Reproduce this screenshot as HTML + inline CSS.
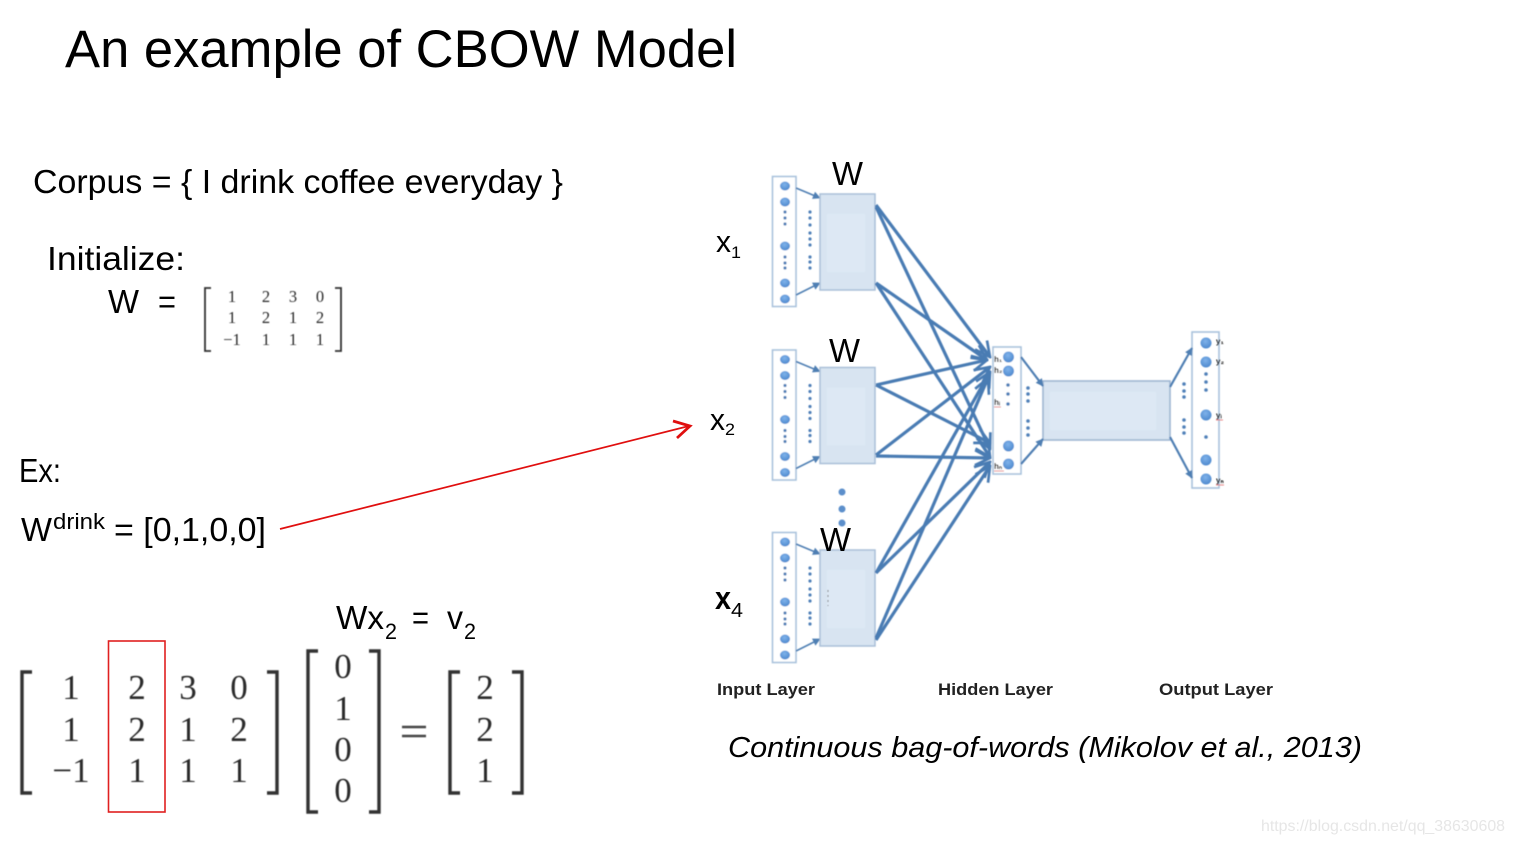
<!DOCTYPE html>
<html><head><meta charset="utf-8"><style>
html,body{margin:0;padding:0;background:#fff}
svg{display:block}
text{font-family:"Liberation Sans",sans-serif;fill:#000}
.m text{font-family:"Liberation Serif",serif;fill:#2a2a2a;text-anchor:middle}
</style></head><body>
<svg width="1514" height="844" viewBox="0 0 1514 844" xmlns="http://www.w3.org/2000/svg">
<defs>
<radialGradient id="n" cx="45%" cy="35%" r="70%"><stop offset="0" stop-color="#7fb2ea"/><stop offset="1" stop-color="#4a86cc"/></radialGradient>
<marker id="h" viewBox="0 0 12 12" refX="11" refY="6" markerWidth="8" markerHeight="8" markerUnits="userSpaceOnUse" orient="auto"><path d="M1 1L11 6L1 11Z" fill="#4f7fb3" stroke="#4f7fb3" stroke-width="1"/></marker>
<marker id="b" viewBox="0 0 12 12" refX="11" refY="6" markerWidth="18" markerHeight="18" markerUnits="userSpaceOnUse" orient="auto"><path d="M1 1L11 6L1 11" fill="none" stroke="#4a7cb3" stroke-width="1.800"/></marker>
<filter id="s" x="-5%" y="-5%" width="110%" height="110%"><feGaussianBlur stdDeviation="0.45"/></filter>
<g id="in">
<rect x="772.500" y="176.500" width="23.500" height="130" fill="#fff" stroke="#a9c2dc" stroke-width="1.600"/>
<g fill="url(#n)"><ellipse cx="785" cy="186" rx="5" ry="4.500"/><ellipse cx="785" cy="202" rx="5" ry="4.500"/><ellipse cx="785" cy="246" rx="5" ry="4.500"/><ellipse cx="785" cy="283" rx="5" ry="4.500"/><ellipse cx="785" cy="299" rx="5" ry="4.500"/></g>
<g fill="#4f80b8"><circle cx="785" cy="212" r="1.600"/><circle cx="785" cy="218" r="1.600"/><circle cx="785" cy="224" r="1.600"/><circle cx="785" cy="257" r="1.600"/><circle cx="785" cy="263" r="1.600"/><circle cx="785" cy="268" r="1.600"/>
<circle cx="810" cy="212" r="1.600"/><circle cx="810" cy="218" r="1.600"/><circle cx="810" cy="225" r="1.600"/><circle cx="810" cy="233" r="1.600"/><circle cx="810" cy="239" r="1.600"/><circle cx="810" cy="245" r="1.600"/><circle cx="810" cy="257" r="1.600"/><circle cx="810" cy="262" r="1.600"/><circle cx="810" cy="268" r="1.600"/></g>
<path d="M796 188L820 198" stroke="#4f7fb3" stroke-width="1.600" fill="none" marker-end="url(#h)"/>
<path d="M796 295L820 283" stroke="#4f7fb3" stroke-width="1.600" fill="none" marker-end="url(#h)"/>
<rect x="820" y="194" width="55" height="96" fill="#d8e4f1" stroke="#a9bfd8" stroke-width="1.500"/>
<rect x="827" y="214" width="38" height="58" fill="#dde8f4"/>
</g>
</defs>

<text x="65" y="67" font-size="53" textLength="672" lengthAdjust="spacingAndGlyphs">An example of CBOW Model</text>
<text x="33" y="193" font-size="33" textLength="530" lengthAdjust="spacingAndGlyphs">Corpus = { I drink coffee everyday }</text>
<text x="47" y="270" font-size="33" textLength="138" lengthAdjust="spacingAndGlyphs">Initialize:</text>
<text x="108" y="313" font-size="33" textLength="31" lengthAdjust="spacingAndGlyphs">W</text>
<text x="158" y="313" font-size="33" textLength="18" lengthAdjust="spacingAndGlyphs">=</text>

<g class="m" filter="url(#s)">
<g fill="none" stroke="#333" stroke-width="1.800"><path d="M211 288H205V351H211M335 288H341V351H335"/></g>
<g font-size="16.500">
<text x="232" y="302">1</text><text x="266" y="302">2</text><text x="293" y="302">3</text><text x="320" y="302">0</text>
<text x="232" y="323">1</text><text x="266" y="323">2</text><text x="293" y="323">1</text><text x="320" y="323">2</text>
<text x="232" y="345">−1</text><text x="266" y="345">1</text><text x="293" y="345">1</text><text x="320" y="345">1</text>
</g>
<g fill="none" stroke="#333" stroke-width="3.400">
<path d="M32 672H22V793H32M267 672H277V793H267"/>
<path d="M318 651H308V812H318M369 651H379V812H369"/>
<path d="M460 672H450V793H460M512 672H522V793H512"/>
</g>
<g font-size="35">
<text x="71" y="699">1</text><text x="137" y="699">2</text><text x="188" y="699">3</text><text x="239" y="699">0</text>
<text x="71" y="741">1</text><text x="137" y="741">2</text><text x="188" y="741">1</text><text x="239" y="741">2</text>
<text x="71" y="782">−1</text><text x="137" y="782">1</text><text x="188" y="782">1</text><text x="239" y="782">1</text>
<text x="343" y="678">0</text><text x="343" y="720">1</text><text x="343" y="761">0</text><text x="343" y="802">0</text>
<text x="485" y="699">2</text><text x="485" y="741">2</text><text x="485" y="782">1</text>
</g>
<path d="M402 727H426M402 736H426" stroke="#444" stroke-width="2.400" fill="none"/>
</g>
<rect x="108.500" y="641" width="56.500" height="171" fill="none" stroke="#e02020" stroke-width="1.600"/>

<text x="19" y="482" font-size="33" textLength="42" lengthAdjust="spacingAndGlyphs">Ex:</text>
<text x="21" y="541" font-size="33" textLength="31" lengthAdjust="spacingAndGlyphs">W</text>
<text x="53" y="529" font-size="22" textLength="52" lengthAdjust="spacingAndGlyphs">drink</text>
<text x="114" y="541" font-size="33" textLength="152" lengthAdjust="spacingAndGlyphs">= [0,1,0,0]</text>
<path d="M280 529L689 426" fill="none" stroke="#e00f0f" stroke-width="1.700"/>
<path d="M673 421L690 426L677 438" fill="none" stroke="#e00f0f" stroke-width="2.800"/>

<text x="336" y="629" font-size="33" textLength="48" lengthAdjust="spacingAndGlyphs">Wx</text>
<text x="385" y="639" font-size="22" textLength="12" lengthAdjust="spacingAndGlyphs">2</text>
<text x="412" y="629" font-size="33" textLength="17" lengthAdjust="spacingAndGlyphs">=</text>
<text x="447" y="629" font-size="33" textLength="16" lengthAdjust="spacingAndGlyphs">v</text>
<text x="464" y="639" font-size="22" textLength="12" lengthAdjust="spacingAndGlyphs">2</text>

<g filter="url(#s)">
<use href="#in"/>
<use href="#in" y="173.500"/>
<use href="#in" y="356"/>
<g fill="#5b8fcb"><circle cx="842" cy="492" r="3.500"/><circle cx="842" cy="509" r="3.500"/><circle cx="842" cy="523" r="3.500"/></g>

<rect x="993" y="347" width="28" height="127" fill="#fff" stroke="#a9c2dc" stroke-width="1.600"/>
<g fill="url(#n)"><circle cx="1008.500" cy="357" r="5.500"/><circle cx="1008.500" cy="371" r="5.500"/><circle cx="1008.500" cy="446" r="5.500"/><circle cx="1008.500" cy="464" r="5.500"/></g>
<g fill="#4f80b8"><circle cx="1008" cy="385" r="1.800"/><circle cx="1008" cy="394" r="1.800"/><circle cx="1008" cy="404" r="1.800"/>
<circle cx="1028" cy="388" r="1.800"/><circle cx="1028" cy="394" r="1.800"/><circle cx="1028" cy="401" r="1.800"/><circle cx="1028" cy="421" r="1.800"/><circle cx="1028" cy="428" r="1.800"/><circle cx="1028" cy="435" r="1.800"/>
<circle cx="1184" cy="384" r="1.800"/><circle cx="1184" cy="391" r="1.800"/><circle cx="1184" cy="397" r="1.800"/><circle cx="1184" cy="420" r="1.800"/><circle cx="1184" cy="427" r="1.800"/><circle cx="1184" cy="433" r="1.800"/>
<circle cx="1206" cy="374" r="1.800"/><circle cx="1206" cy="382" r="1.800"/><circle cx="1206" cy="390" r="1.800"/><circle cx="1206" cy="437" r="1.800"/></g>
<rect x="1043" y="381" width="127" height="59" fill="#d8e4f1" stroke="#9db6d2" stroke-width="1.600"/>
<rect x="1050" y="392" width="106" height="38" fill="#dde8f4"/>
<rect x="1192" y="332" width="27" height="156" fill="none" stroke="#a9c2dc" stroke-width="1.600"/>
<g fill="url(#n)"><circle cx="1206" cy="343" r="5.500"/><circle cx="1206" cy="362" r="5.500"/><circle cx="1206" cy="415" r="5.500"/><circle cx="1206" cy="460" r="5.500"/><circle cx="1206" cy="479" r="5.500"/></g>

<g fill="none" stroke="#4a7cb3" stroke-width="3.200">
<path d="M876 205L990 357" marker-end="url(#b)"/>
<path d="M876 207L990 449" marker-end="url(#b)"/>
<path d="M876 283L987 360" marker-end="url(#b)"/>
<path d="M876 283L990 457" marker-end="url(#b)"/>
<path d="M876 385L987 360" marker-end="url(#b)"/>
<path d="M876 385L990 443" marker-end="url(#b)"/>
<path d="M876 455L990 367" marker-end="url(#b)"/>
<path d="M876 456L990 458" marker-end="url(#b)"/>
<path d="M876 573L990 372" marker-end="url(#b)"/>
<path d="M876 573L990 462" marker-end="url(#b)"/>
<path d="M876 638L988 378" marker-end="url(#b)"/>
<path d="M876 640L990 466" marker-end="url(#b)"/>
</g>
<g fill="none" stroke="#4f7fb3" stroke-width="2.200">
<path d="M1021 357L1043 386" marker-end="url(#h)"/><path d="M1021 464L1043 439" marker-end="url(#h)"/><path d="M1170 387L1192 348" marker-end="url(#h)"/><path d="M1170 437L1192 478" marker-end="url(#h)"/>
</g>
<g font-size="8" font-weight="bold">
<text x="994" y="362">h₁</text><text x="994" y="373">h₂</text><text x="994" y="405">hᵢ</text><text x="994" y="469">hₙ</text>
<text x="1216" y="344">y₁</text><text x="1216" y="364">y₂</text><text x="1216" y="418">yᵢ</text><text x="1216" y="483">yₙ</text>
</g>
<path d="M994 407h7M994 471h10M1216 420h7M1216 485h8" stroke="#e06060" stroke-width="0.800"/>
<path d="M828 590v16" stroke="#777" stroke-width="1" stroke-dasharray="2 3"/>
</g>

<text x="832" y="185" font-size="33" textLength="31" lengthAdjust="spacingAndGlyphs">W</text>
<text x="829" y="362" font-size="33" textLength="31" lengthAdjust="spacingAndGlyphs">W</text>
<text x="820" y="551" font-size="33" textLength="31" lengthAdjust="spacingAndGlyphs">W</text>

<text x="716" y="252" font-size="31" textLength="15" lengthAdjust="spacingAndGlyphs">x</text>
<text x="731" y="258" font-size="17" textLength="10" lengthAdjust="spacingAndGlyphs">1</text>
<text x="710" y="430" font-size="31" textLength="15" lengthAdjust="spacingAndGlyphs">x</text>
<text x="725" y="435" font-size="17" textLength="10" lengthAdjust="spacingAndGlyphs">2</text>
<text x="715" y="609" font-size="32" font-weight="bold" textLength="16" lengthAdjust="spacingAndGlyphs">x</text>
<text x="731" y="617" font-size="20" textLength="12" lengthAdjust="spacingAndGlyphs">4</text>

<text x="717" y="695" font-size="17" font-weight="bold" textLength="98" lengthAdjust="spacingAndGlyphs" style="fill:#222">Input Layer</text>
<text x="938" y="695" font-size="17" font-weight="bold" textLength="115" lengthAdjust="spacingAndGlyphs" style="fill:#222">Hidden Layer</text>
<text x="1159" y="695" font-size="17" font-weight="bold" textLength="114" lengthAdjust="spacingAndGlyphs" style="fill:#222">Output Layer</text>
<text x="728" y="757" font-size="29" font-style="italic" textLength="634" lengthAdjust="spacingAndGlyphs">Continuous bag-of-words (Mikolov et al., 2013)</text>
<text x="1261" y="831" font-size="16" textLength="244" lengthAdjust="spacingAndGlyphs" style="fill:#e6e6e6">https://blog.csdn.net/qq_38630608</text>
</svg>
</body></html>
